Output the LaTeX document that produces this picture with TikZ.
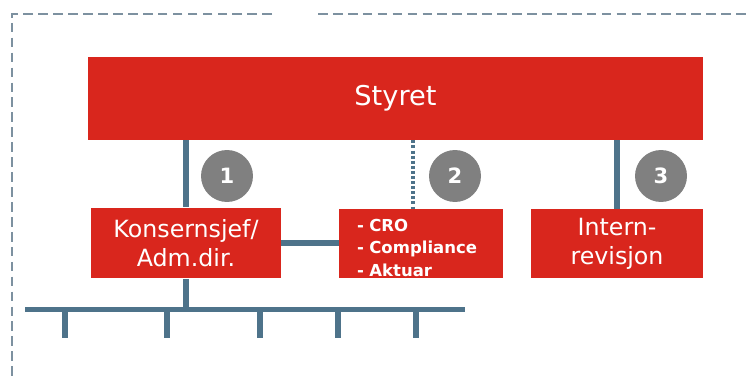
\documentclass[tikz,border=0pt]{standalone}
\usepackage{fontspec}
\setmainfont{DejaVu Sans}
\usepackage{tikz}
\usetikzlibrary{calc,positioning}
\usepackage{xcolor}
\definecolor{boxred}{RGB}{217,38,29}
\definecolor{linkblue}{RGB}{78,115,138}
\definecolor{framegray}{RGB}{125,145,160}
\definecolor{badgegray}{RGB}{128,128,128}

\begin{document}
\begin{tikzpicture}[x=0.02cm, y=-0.02cm,
  box/.style={fill=boxred, text=white, inner sep=0pt, align=center},
  link/.style={draw=linkblue, line width=3.2pt},
  badge/.style={circle, fill=badgegray, minimum size=1.04cm, inner sep=0pt, text=white, font=\bfseries\fontsize{12}{12}\selectfont}]
  \useasboundingbox (0,0) rectangle (747,381);
  \draw[framegray, line width=1.2pt, dash pattern=on 5.5pt off 3pt] (272,14) -- (12,14) -- (12,381);
  \draw[framegray, line width=1.2pt, dash pattern=on 5.5pt off 3pt] (318,14) -- (747,14);

  \node[box, minimum width=12.3cm, minimum height=1.66cm, font=\fontsize{15.5}{18}\selectfont] (styret) at (395.5,98.5) {Styret};
  \node[box, minimum width=3.8cm, minimum height=1.42cm, font=\fontsize{13.5}{16.4}\selectfont] (kons) at (186,243) {Konsernsjef/\\Adm.dir.};
  \node[box, align=left, text width=2.56cm, inner xsep=0.36cm, minimum height=1.38cm, font=\bfseries\fontsize{9.4}{12.7}\selectfont] (cro) at (421,243.5) {\rule{0pt}{12pt}- CRO\\- Compliance\\- Aktuar};
  \node[box, minimum width=3.44cm, minimum height=1.38cm, font=\fontsize{13.5}{16.4}\selectfont] (intern) at (617,243.5) {Intern-\\revisjon};

  \foreach \n/\x in {1/227, 2/455, 3/661}{
    \node[badge] (b\n) at (\x,176) {\n};
  }

  \draw[link] (styret.south -| kons.north) -- (kons.north);
  \coordinate (d2) at (413,209);
  \draw[link, line width=2.4pt, dash pattern=on 1.7pt off 1.2pt] (d2 |- styret.south) -- (d2);
  \draw[link] (styret.south -| intern.north) -- (intern.north);
  \draw[link] (kons.east) -- (kons.east -| cro.west);

  \coordinate (busL) at (25,309.5);
  \coordinate (busR) at (465,309.5);
  \draw[link] (busL) -- (busR);
  \draw[link] (kons.south) -- (kons.south |- busL);
  \foreach \x [count=\i] in {65,167,260,338,416}{
    \coordinate (t\i) at (\x,338);
    \draw[link] (t\i |- busL) -- (t\i);
  }
\end{tikzpicture}
\end{document}
